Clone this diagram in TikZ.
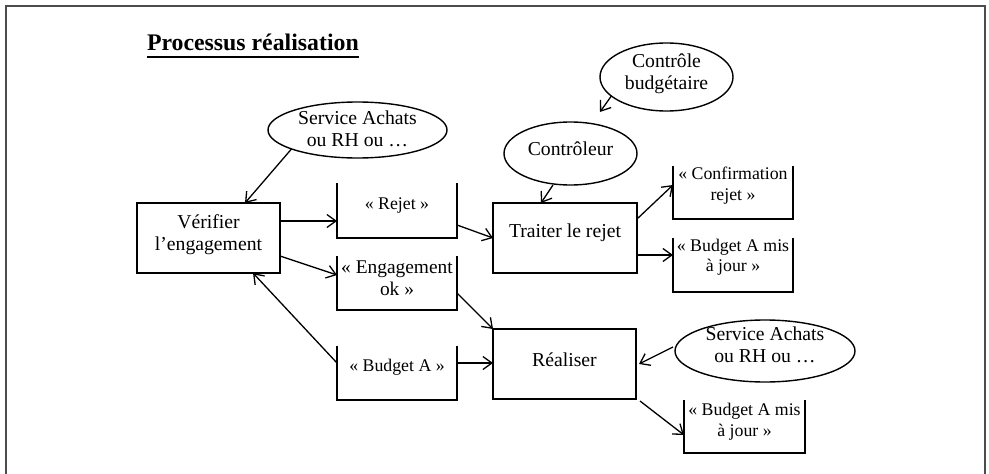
\documentclass[tikz,border=0pt]{standalone}
\usepackage{fontspec}
\setmainfont{Liberation Serif}
\usetikzlibrary{shapes.geometric,arrows.meta}
\begin{document}
\begin{tikzpicture}[x=1pt,y=-1pt,
  every node/.style={inner sep=0pt, outer sep=0pt},
  txt/.style={font=\fontsize{19.7}{22}\selectfont, align=center},
  small/.style={font=\fontsize{17.8}{20.5}\selectfont, align=center},
  mid/.style={font=\fontsize{19.4}{22.5}\selectfont, align=center},
  proc/.style={draw, line width=1.8pt, rectangle},
  actor/.style={draw, ellipse, line width=1.4pt},
  dbox/.style={rectangle, minimum width=120pt, minimum height=54pt},
  dline/.style={line width=1.4pt},
  flow/.style={line width=1.3pt, -{Straight Barb[length=9pt,width=13pt]}},
  frame/.style={line width=1.6pt, draw=black!70}]
\useasboundingbox (0,0) rectangle (989,474);
\draw[frame] (6,474) -- (6,6) -- (985,6) -- (985,474);

% title
\node[anchor=base west, font=\bfseries\fontsize{23.8}{28}\selectfont] (title) at (147,50) {Processus réalisation};
\draw[line width=2pt] ([yshift=-7pt]title.base west) -- ([yshift=-7pt]title.base east);

% actors
\node[actor, minimum width=179pt, minimum height=56pt] (svc1) at (357.5,130) {};
\node[txt] (svc1txt) at ([yshift=1pt]svc1.center) {Service Achats\\ou RH ou …};
\node[actor, minimum width=133pt, minimum height=68pt] (ctrlbud) at (666.5,77) {};
\node[txt] (ctrlbudtxt) at ([yshift=3pt]ctrlbud.center) {Contrôle\\budgétaire};
\node[actor, minimum width=133pt, minimum height=63pt] (ctrl) at (570.5,153.5) {};
\node[txt] (ctrltxt) at ([yshift=5pt]ctrl.center) {Contrôleur};
\node[actor, minimum width=180pt, minimum height=62pt] (svc2) at (765,351) {};
\node[txt] (svc2txt) at ([yshift=6pt]svc2.center) {Service Achats\\ou RH ou …};

% processes
\node[proc, minimum width=143pt, minimum height=70pt] (verif) at (208.5,238) {};
\node[txt] (veriftxt) at ([yshift=3pt]verif.center) {Vérifier\\l’engagement};
\node[proc, minimum width=144pt, minimum height=70pt] (traiter) at (565,238) {};
\node[txt] (traitertxt) at ([yshift=5pt]traiter.center) {Traiter le rejet};
\node[proc, minimum width=143pt, minimum height=70pt] (real) at (564.5,364) {};
\node[txt] (realtxt) at ([yshift=4pt]real.center) {Réaliser};

% data stores (open top)
\node[dbox, minimum height=55pt] (rejet) at (397,210.5) {};
\node[dbox] (engag) at (397,283) {};
\node[dbox] (budgA) at (397,373) {};
\node[dbox, minimum height=53pt] (confirm) at (733,192.5) {};
\node[dbox] (bmaj1) at (733,265) {};
\node[dbox, minimum width=121pt, minimum height=53pt] (bmaj2) at (744.5,426.5) {};
\foreach \n in {rejet,engag,budgA,confirm,bmaj1,bmaj2}
  \draw[dline] (\n.north west) |- (\n.south east) -- (\n.north east);

\node[small] (rejettxt) at ([yshift=5pt]rejet.center) {« Rejet »};
\node[mid] (engagtxt) at ([yshift=5pt]engag.center) {« Engagement\\ok »};
\node[small] (budgAtxt) at ([yshift=6pt]budgA.center) {« Budget A »};
\node[small] (confirmtxt) at ([yshift=7pt]confirm.center) {« Confirmation\\rejet »};
\node[small] (bmaj1txt) at ([yshift=8pt]bmaj1.center) {« Budget A mis\\à jour »};
\node[small] (bmaj2txt) at ([yshift=5pt]bmaj2.center) {« Budget A mis\\à jour »};

% connectors
\draw[flow] (svc1.196) -- ([xshift=36.5pt]verif.north);
\draw[flow] ([yshift=17pt]verif.east) -- ([yshift=17pt]verif.east -| rejet.west);
\draw[flow] ([yshift=-14.5pt]rejet.east) -- (traiter.west);
\draw[flow] ([yshift=-18pt]verif.east) -- ([yshift=8pt]engag.west);
\draw[flow] ([yshift=-10pt]engag.east) -- (real.north west);
\draw[flow] ([yshift=10pt]budgA.west) -- ([xshift=44.5pt]verif.south);
\draw[flow] ([yshift=10pt]budgA.east) -- ([yshift=10pt]budgA.east -| real.west);
\draw[flow] (ctrlbud.199) -- ([shift={(29.5pt,10pt)}]ctrl.north);
\draw[flow] ([xshift=-17.5pt]ctrl.south) -- ([xshift=-24pt]traiter.north);
\draw[flow] ([yshift=19pt]traiter.east) -- ([yshift=7.5pt]confirm.west);
\draw[flow] ([yshift=-17pt]traiter.east) -- ([yshift=-17pt]traiter.east -| bmaj1.west);
\draw[flow] ([shift={(-2pt,4pt)}]svc2.west) -- ([xshift=3pt]real.east);
\draw[flow] ([xshift=4pt,yshift=-2pt]real.south east) -- ([yshift=-8.5pt]bmaj2.west);
\end{tikzpicture}
\end{document}
